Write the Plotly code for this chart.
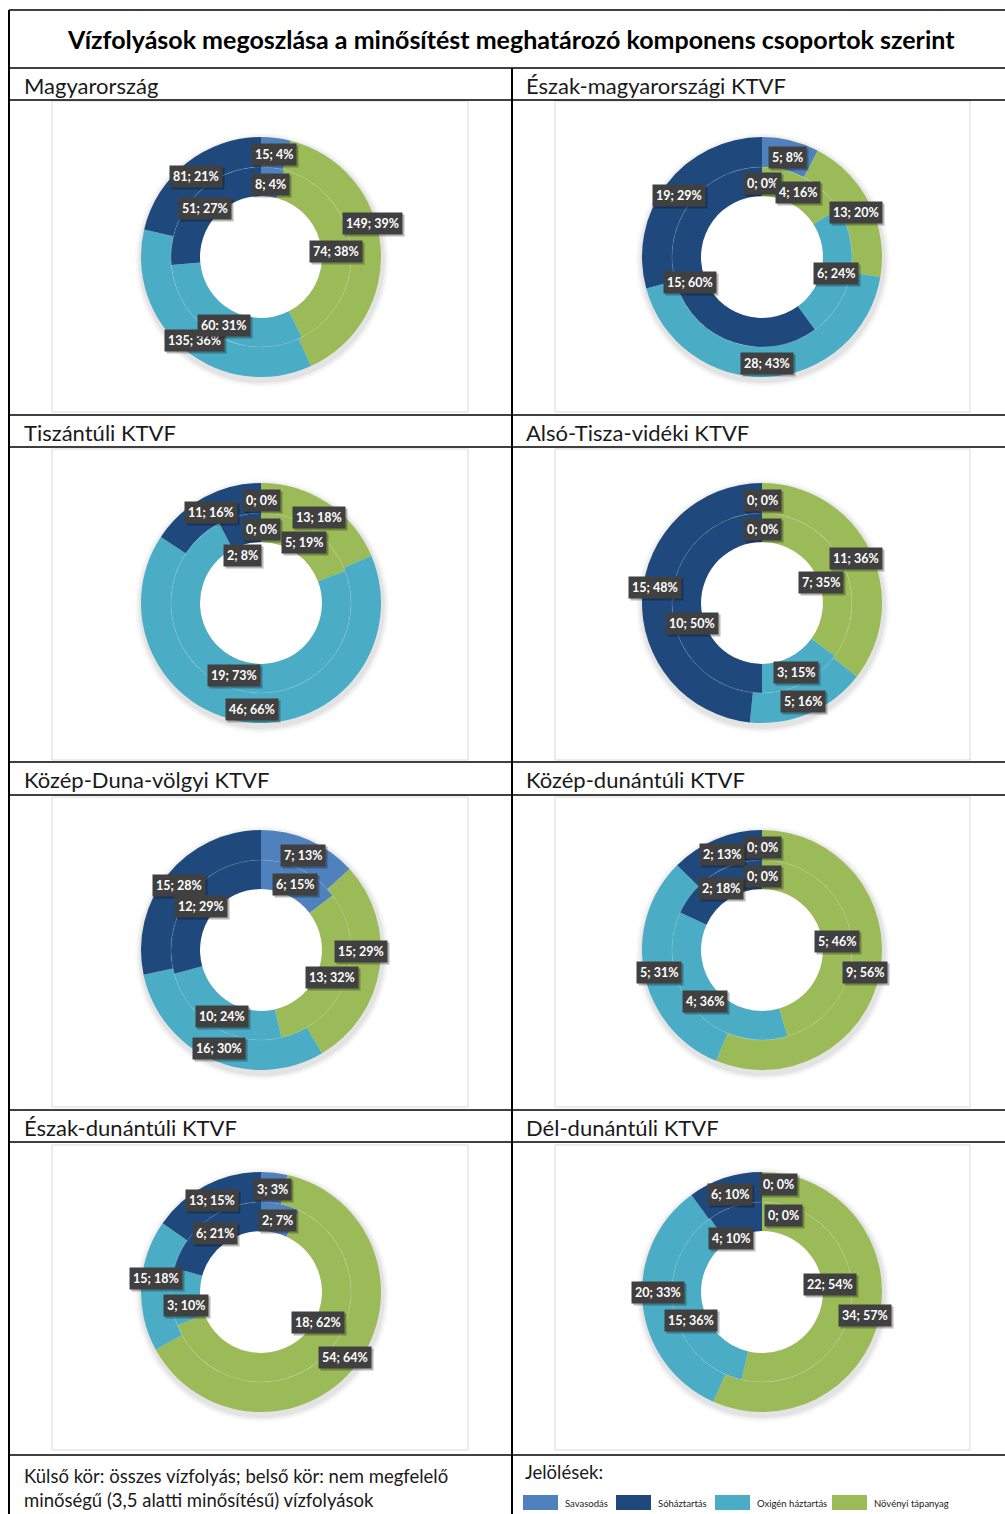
import math
import plotly.graph_objects as go

# ---------------- data ----------------
TITLE = "Vízfolyások megoszlása a minősítést meghatározó komponens csoportok szerint"
panel_names = ["Magyarország", "Észak-magyarországi KTVF", "Tiszántúli KTVF", "Alsó-Tisza-vidéki KTVF",
               "Közép-Duna-völgyi KTVF", "Közép-dunántúli KTVF", "Észak-dunántúli KTVF", "Dél-dunántúli KTVF"]
# slice order (clockwise from 12 o'clock)
categories = ["Savasodás", "Növényi tápanyag", "Oxigén háztartás", "Sóháztartás"]
cat_colors = {"Savasodás": "#4F81BD", "Sóháztartás": "#1F497D",
              "Oxigén háztartás": "#4BACC6", "Növényi tápanyag": "#9BBB59"}
legend_order = ["Savasodás", "Sóháztartás", "Oxigén háztartás", "Növényi tápanyag"]

# outer ring: all watercourses
outer_values = [[15, 149, 135, 81], [5, 13, 28, 19], [0, 13, 46, 11], [0, 11, 5, 15],
                [7, 15, 16, 15], [0, 9, 5, 2], [3, 54, 15, 13], [0, 34, 20, 6]]
outer_pct = [[4, 39, 36, 21], [8, 20, 43, 29], [0, 18, 66, 16], [0, 36, 16, 48],
             [13, 29, 30, 28], [0, 56, 31, 13], [3, 64, 18, 15], [0, 57, 33, 10]]
# inner ring: non-compliant (below 3.5) watercourses
inner_values = [[8, 74, 60, 51], [0, 4, 6, 15], [0, 5, 19, 2], [0, 7, 3, 10],
                [6, 13, 10, 12], [0, 5, 4, 2], [2, 18, 3, 6], [0, 22, 15, 4]]
inner_pct = [[4, 38, 31, 27], [0, 16, 24, 60], [0, 19, 73, 8], [0, 35, 15, 50],
             [15, 32, 24, 29], [0, 46, 36, 18], [7, 62, 10, 21], [0, 54, 36, 10]]

FOOT_LEFT = ["Külső kör: összes vízfolyás; belső kör: nem megfelelő",
             "minőségű (3,5 alatti minősítésű) vízfolyások"]
FOOT_RIGHT = "Jelölések:"

# ---------------- layout geometry (pixels) ----------------
W, H = 1005, 1514
def px(x): return x / W
def py(y): return 1 - y / H

FONT = "Lato, Carlito, 'Open Sans', sans-serif"
centers_x = [261, 762]
centers_y = [257, 603, 950, 1292]
R_OUT, R_MID, R_IN = 120, 90, 61
header_rows = [(68, 100), (415, 447), (762, 795), (1110, 1142)]
chart_rows = [(101, 412), (449, 760), (797, 1107), (1145, 1450)]
frames_x = [(52, 468), (555, 970)]

# manual label nudges (pixels) where labels were moved apart in the original: (panel, ring, slice)
LABEL_NUDGE = {(0, 0, 1): (7, -26), (2, 1, 3): (0, 24), (3, 1, 1): (-8, 12), (3, 1, 3): (5, 18),
               (3, 0, 3): (-2, -12), (4, 0, 1): (-4, -16), (6, 1, 1): (5, -26), (6, 0, 2): (0, -10),
               (6, 1, 2): (0, 7), (7, 0, 0): (16, -5), (7, 1, 0): (21, -3), (7, 1, 3): (-8, 16),
               (7, 1, 1): (-7, -18), (7, 0, 2): (0, -12), (7, 1, 2): (3, 12)}
LABEL_SEP = {(0, 1, 2): ": "}   # as printed in the original

fig = go.Figure()
shapes = []
annotations = []

# table grid
LINE = dict(color="#000000", width=2)
shapes.append(dict(type="line", xref="paper", yref="paper", x0=px(9), x1=px(9), y0=py(10), y1=py(1514), line=LINE))
shapes.append(dict(type="line", xref="paper", yref="paper", x0=px(512), x1=px(512), y0=py(68), y1=py(1514), line=LINE))
for yy in [10, 68, 100, 415, 447, 762, 795, 1110, 1142, 1455]:
    shapes.append(dict(type="line", xref="paper", yref="paper", x0=px(9), x1=px(1005), y0=py(yy), y1=py(yy),
                       line=dict(color="#000000", width=1.6)))

annotations.append(dict(text="<b>" + TITLE + "</b>", xref="paper", yref="paper", x=px(511), y=py(39),
                        xanchor="center", yanchor="middle", showarrow=False,
                        font=dict(family=FONT, size=25, color="#000000")))

for i, name in enumerate(panel_names):
    col, row = i % 2, i // 2
    cx, cy = centers_x[col], centers_y[row]
    hy0, hy1 = header_rows[row]
    annotations.append(dict(text=name, xref="paper", yref="paper", x=px(22 + 502 * col), y=py((hy0 + hy1) / 2 + 1),
                            xanchor="left", yanchor="middle", showarrow=False,
                            font=dict(family=FONT, size=22, color="#1a1a1a")))
    fx0, fx1 = frames_x[col]
    fy0, fy1 = chart_rows[row]
    shapes.append(dict(type="rect", xref="paper", yref="paper", x0=px(fx0), x1=px(fx1), y0=py(fy0), y1=py(fy1),
                       line=dict(color="#d9d9d9", width=1), fillcolor="#ffffff", layer="below"))
    # soft shadow halo
    for k, a in [(7, 0.025), (5, 0.035), (3, 0.05)]:
        r = R_OUT + k
        shapes.append(dict(type="circle", xref="paper", yref="paper", x0=px(cx - r + 1), x1=px(cx + r + 1),
                           y0=py(cy + r + 3), y1=py(cy - r + 3), line=dict(width=0),
                           fillcolor="rgba(0,0,0,%.3f)" % a, layer="below"))
    shapes.append(dict(type="circle", xref="paper", yref="paper", x0=px(cx - R_IN), x1=px(cx + R_IN),
                       y0=py(cy + R_IN), y1=py(cy - R_IN), line=dict(width=0),
                       fillcolor="#ffffff", layer="below"))

    colors = [cat_colors[c] for c in categories]
    fig.add_trace(go.Pie(values=outer_values[i], labels=categories, sort=False, direction="clockwise",
                         rotation=0, hole=R_MID / R_OUT, textinfo="none", hoverinfo="label+value",
                         showlegend=False, marker=dict(colors=colors, line=dict(width=0)),
                         domain=dict(x=[px(cx - R_OUT), px(cx + R_OUT)], y=[py(cy + R_OUT), py(cy - R_OUT)])))
    fig.add_trace(go.Pie(values=inner_values[i], labels=categories, sort=False, direction="clockwise",
                         rotation=0, hole=R_IN / R_MID, textinfo="none", hoverinfo="label+value",
                         showlegend=False, marker=dict(colors=colors, line=dict(width=0)),
                         domain=dict(x=[px(cx - R_MID), px(cx + R_MID)], y=[py(cy + R_MID), py(cy - R_MID)])))
    shapes.append(dict(type="circle", xref="paper", yref="paper", x0=px(cx - R_MID), x1=px(cx + R_MID),
                       y0=py(cy + R_MID), y1=py(cy - R_MID), line=dict(color="rgba(255,255,255,0.12)", width=1)))

    # data labels at slice mid-angles
    for ring, (vals, pcts, rr) in enumerate([(outer_values[i], outer_pct[i], (R_MID + R_OUT) / 2),
                                             (inner_values[i], inner_pct[i], (R_IN + R_MID) / 2)]):
        total = sum(vals)
        cum = 0
        for j, (v, p) in enumerate(zip(vals, pcts)):
            th = 2 * math.pi * (cum + v / 2) / total
            cum += v
            ndx, ndy = LABEL_NUDGE.get((i, ring, j), (0, 0))
            lx = cx + rr * math.sin(th) + ndx
            ly = cy - rr * math.cos(th) + 2 + ndy
            txt = "<b>%d%s%d%%</b>" % (v, LABEL_SEP.get((i, ring, j), "; "), p)
            annotations.append(dict(text=txt, xref="paper", yref="paper", x=px(lx), y=py(ly), xshift=2, yshift=-2,
                                    xanchor="center", yanchor="middle",
                                    showarrow=False, bgcolor="rgba(0,0,0,0.28)", borderpad=3,
                                    font=dict(family=FONT, size=12.5, color="rgba(0,0,0,0)")))
            annotations.append(dict(text=txt, xref="paper", yref="paper", x=px(lx), y=py(ly),
                                    xanchor="center", yanchor="middle",
                                    showarrow=False, bgcolor="#404040", borderpad=3,
                                    font=dict(family=FONT, size=12.5, color="#ffffff")))

# footer
for j, line in enumerate(FOOT_LEFT):
    annotations.append(dict(text=line, xref="paper", yref="paper", x=px(22), y=py(1476 + 24 * j),
                            xanchor="left", yanchor="middle", showarrow=False,
                            font=dict(family=FONT, size=18.5, color="#1a1a1a")))
annotations.append(dict(text=FOOT_RIGHT, xref="paper", yref="paper", x=px(523), y=py(1472),
                        xanchor="left", yanchor="middle", showarrow=False,
                        font=dict(family=FONT, size=18.5, color="#1a1a1a")))
leg_x = [523, 616, 715, 832]
for c, lx in zip(legend_order, leg_x):
    shapes.append(dict(type="rect", xref="paper", yref="paper", x0=px(lx), x1=px(lx + 35), y0=py(1495), y1=py(1510),
                       line=dict(width=0), fillcolor=cat_colors[c]))
    annotations.append(dict(text=c, xref="paper", yref="paper", x=px(lx + 40), y=py(1503),
                            xanchor="left", yanchor="middle", showarrow=False,
                            font=dict(family=FONT, size=9.5, color="#1a1a1a")))

fig.update_layout(width=W, height=H, margin=dict(l=0, r=0, t=0, b=0),
                  paper_bgcolor="#ffffff", plot_bgcolor="#ffffff",
                  shapes=shapes, annotations=annotations, showlegend=False)
fig.write_html("out.html", config={"displayModeBar": False},
               post_script="document.body.style.margin='0px';document.body.style.overflow='hidden';")
